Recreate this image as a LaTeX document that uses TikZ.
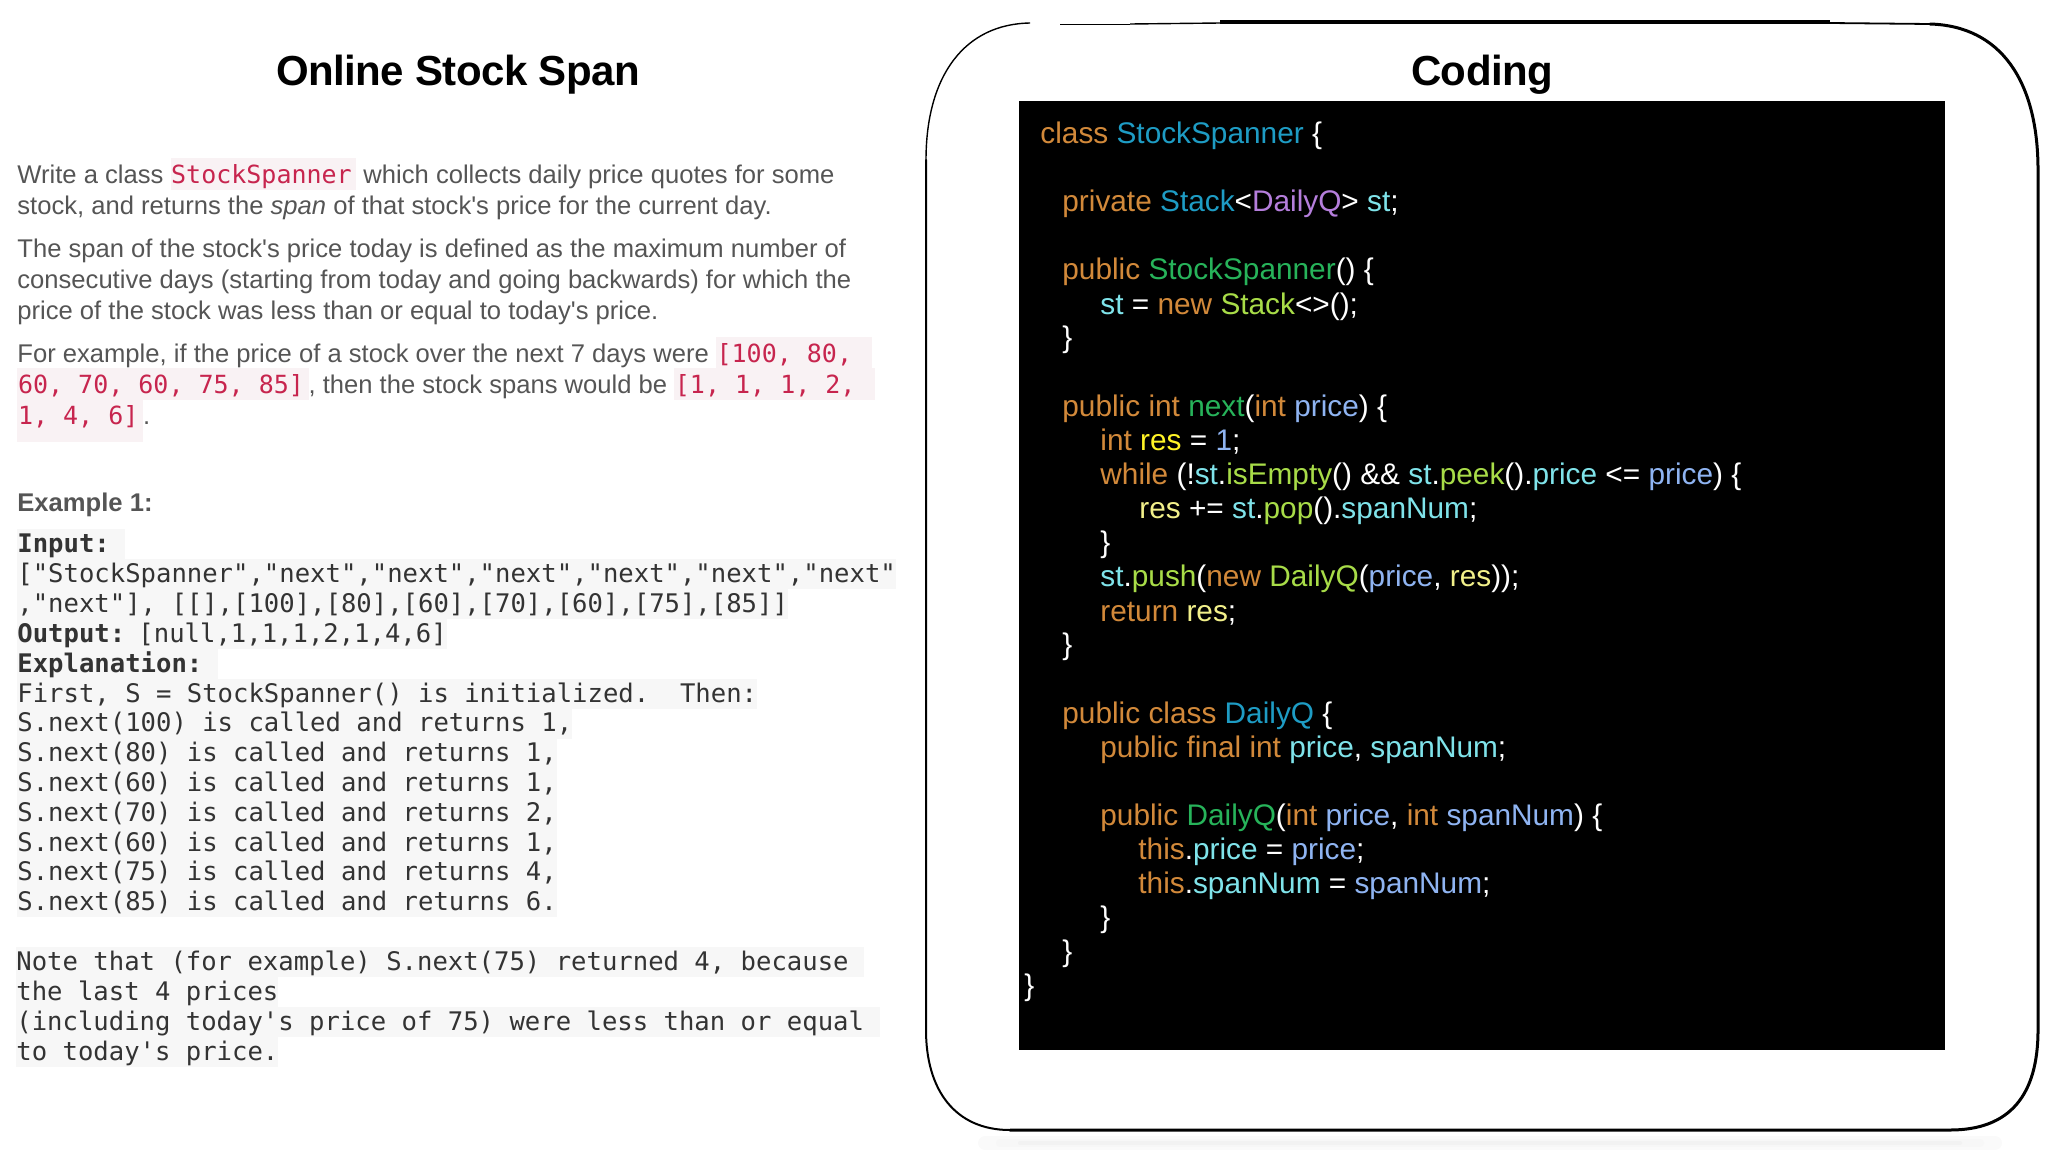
\documentclass[tikz,border=0pt]{standalone}
\usepackage{fontspec}
\usepackage{xcolor}
\newfontfamily\bodyfont{Liberation Sans}
\newfontfamily\titlefont{Liberation Sans}[LetterSpace=-1.3]
\newfontfamily\monofont{DejaVu Sans Mono}
\definecolor{bodygray}{HTML}{555555}
\definecolor{monogray}{HTML}{333333}
\definecolor{monobg}{HTML}{F7F7F7}
\definecolor{hlpink}{HTML}{F9F2F4}
\definecolor{hlred}{HTML}{C7254E}
\definecolor{kwdcol}{HTML}{D2893A}
\definecolor{clscol}{HTML}{1E9CC4}
\definecolor{fncol}{HTML}{27B35A}
\definecolor{callcol}{HTML}{A8DC48}
\definecolor{fldcol}{HTML}{7FE3EA}
\definecolor{prmcol}{HTML}{8FB4F2}
\definecolor{gencol}{HTML}{B57EDC}
\definecolor{rescol}{HTML}{F2F08A}
\newcommand{\hlcode}[2][3.5pt]{{\setlength{\fboxsep}{0pt}\colorbox{hlpink}{\vrule width 0pt height 12.5pt depth #1\hspace{.3pt}{\monofont\fontsize{12.5}{15}\selectfont\textcolor{hlred}{#2}}\hspace{2.3pt}}}}
\newcommand{\tailsp}{\kern7.7pt}
\newcommand{\kwd}[1]{\textcolor{kwdcol}{#1}}
\newcommand{\tcls}[1]{\textcolor{clscol}{#1}}
\newcommand{\tfn}[1]{\textcolor{fncol}{#1}}
\newcommand{\tcall}[1]{\textcolor{callcol}{#1}}
\newcommand{\tfld}[1]{\textcolor{fldcol}{#1}}
\newcommand{\tprm}[1]{\textcolor{prmcol}{#1}}
\newcommand{\tgen}[1]{\textcolor{gencol}{#1}}
\newcommand{\tres}[1]{\textcolor{rescol}{#1}}
\begin{document}
\begin{tikzpicture}[x=0.5pt,y=-0.5pt,
  titlenode/.style={inner sep=0pt,anchor=base,font=\titlefont\bfseries\fontsize{21}{25}\selectfont},
  bodyline/.style={inner sep=0pt,anchor=base west,text=bodygray,font=\bodyfont\fontsize{12.8}{15}\selectfont},
  monoline/.style={inner sep=0pt,anchor=base west,text=monogray,fill=monobg,text height=11.5pt,text depth=3.4pt,font=\monofont\fontsize{12.8}{15}\selectfont},
  codeline/.style={inner sep=0pt,anchor=base west,text=white,font=\bodyfont\fontsize{14.9}{17}\selectfont}]
    \useasboundingbox (0,0) rectangle (2048,1152);
    % left column
    \node[titlenode] (lefttitle) at (458,85) {Online Stock Span};
    \node[bodyline] (b1) at (17,183) {Write a class \hlcode{StockSpanner} which collects daily price quotes for some};
    \node[bodyline] (b2) at (17,214) {stock, and returns the \textit{span} of that stock's price for the current day.};
    \node[bodyline] (b3) at (17,257) {The span of the stock's price today is defined as the maximum number of};
    \node[bodyline] (b4) at (17,288) {consecutive days (starting from today and going backwards) for which the};
    \node[bodyline] (b5) at (17,319) {price of the stock was less than or equal to today's price.};
    \node[bodyline] (b6) at (17,362) {For example, if the price of a stock over the next 7 days were \hlcode{[100, 80,~}};
    \node[bodyline] (b7) at (17,393) {\hlcode{60, 70, 60, 75, 85]}, then the stock spans would be \hlcode{[1, 1, 1, 2,~}};
    \node[bodyline] (b8) at (17,424) {\hlcode[9pt]{1, 4, 6]}.};
    \node[bodyline,font=\bodyfont\bfseries\fontsize{12.8}{15}\selectfont] (ex) at (17,511) {Example 1:};
    % example block
    \node[monoline] (m1) at (17,552) {\textbf{Input:}\tailsp};
    \node[monoline] (m2) at (17,582) {["StockSpanner","next","next","next","next","next","next"};
    \node[monoline] (m3) at (17,612) {,"next"], [[],[100],[80],[60],[70],[60],[75],[85]]};
    \node[monoline] (m4) at (17,642) {\textbf{Output:}\kern6.6pt[null,1,1,1,2,1,4,6]};
    \node[monoline] (m5) at (17,672) {\textbf{Explanation:}\tailsp};
    \node[monoline] (m6) at (17,702) {First, S = StockSpanner() is initialized.~~Then:};
    \node[monoline] (m7) at (17,731.8) {S.next(100) is called and returns 1,};
    \node[monoline] (m8) at (17,761.6) {S.next(80) is called and returns 1,};
    \node[monoline] (m9) at (17,791.4) {S.next(60) is called and returns 1,};
    \node[monoline] (m10) at (17,821.2) {S.next(70) is called and returns 2,};
    \node[monoline] (m11) at (17,851) {S.next(60) is called and returns 1,};
    \node[monoline] (m12) at (17,880.8) {S.next(75) is called and returns 4,};
    \node[monoline] (m13) at (17,910.6) {S.next(85) is called and returns 6.};
    \node[monoline] (n1) at (16,970) {Note that (for example) S.next(75) returned 4, because\tailsp};
    \node[monoline] (n2) at (16,1000) {the last 4 prices};
    \node[monoline] (n3) at (16,1030) {(including today's price of 75) were less than or equal\tailsp};
    \node[monoline] (n4) at (16,1060) {to today's price.};
    % frame, drawn by hand
    \draw[black!2,line width=7pt,line cap=round] (985,1143) -- (1995,1143);
    \draw[black!3,line width=4pt,line cap=round] (1000,1143) -- (1980,1143);
    \draw[black!5,line width=2pt,line cap=round] (1020,1143) -- (1960,1143);
    \draw[line width=1pt,line cap=round] (1010,1130) .. controls (955,1130) and (926,1090) .. (926,1030) -- (926,160);
    \draw[line width=.7pt] (926,160) .. controls (926,75) and (965,24) .. (1030,23);
    \draw[line width=.5pt] (1060,24) -- (1130,24);
    \draw[line width=.7pt] (1130,24) -- (1220,23);
    \draw[line width=1.6pt] (1220,22) -- (1830,22);
    \draw[line width=.9pt] (1830,23) -- (1930,24);
    \draw[line width=1.5pt,line cap=round] (1930,24) .. controls (2000,26) and (2038,80) .. (2038,170) -- (2038,1030)
      .. controls (2038,1095) and (2010,1130) .. (1950,1130) -- (1010,1130);
    % code panel
    \node[titlenode] (righttitle) at (1482,85) {Coding};
    \fill[black] (1019,101) rectangle (1945,1050);
    \node[codeline] (c0) at (1040,143) {\kwd{class} \tcls{StockSpanner} \{};
    \node[codeline] (c2) at (1062,211) {\kwd{private} \tcls{Stack}<\tgen{DailyQ}> \tfld{st};};
    \node[codeline] (c4) at (1062,279) {\kwd{public} \tfn{StockSpanner}() \{};
    \node[codeline] (c5) at (1100,314) {\tfld{st} = \kwd{new} \tcall{Stack}<>();};
    \node[codeline] (c6) at (1062,347) {\}};
    \node[codeline] (c8) at (1062,416) {\kwd{public} \kwd{int} \tfn{next}(\kwd{int} \tprm{price}) \{};
    \node[codeline] (c9) at (1100,450) {\kwd{int} \textcolor{yellow!85!white}{res} = \tprm{1};};
    \node[codeline] (c10) at (1100,484) {\kwd{while} (!\tfld{st}.\tcall{isEmpty}() \&\& \tfld{st}.\tcall{peek}().\tfld{price} <= \tprm{price}) \{};
    \node[codeline] (c11) at (1139,518) {\tres{res} += \tfld{st}.\tcall{pop}().\tfld{spanNum};};
    \node[codeline] (c12) at (1100,552) {\}};
    \node[codeline] (c13) at (1100,586) {\tfld{st}.\tcall{push}(\kwd{new} \tcall{DailyQ}(\tprm{price}, \tres{res}));};
    \node[codeline] (c14) at (1100,621) {\kwd{return} \tres{res};};
    \node[codeline] (c15) at (1062,654) {\}};
    \node[codeline] (c17) at (1062,723) {\kwd{public} \kwd{class} \tcls{DailyQ} \{};
    \node[codeline] (c18) at (1100,757) {\kwd{public} \kwd{final} \kwd{int} \tfld{price}, \tfld{spanNum};};
    \node[codeline] (c20) at (1100,825) {\kwd{public} \tfn{DailyQ}(\kwd{int} \tprm{price}, \kwd{int} \tprm{spanNum}) \{};
    \node[codeline] (c21) at (1138,859) {\kwd{this}.\tfld{price} = \tprm{price};};
    \node[codeline] (c22) at (1138,893) {\kwd{this}.\tfld{spanNum} = \tprm{spanNum};};
    \node[codeline] (c23) at (1100,927) {\}};
    \node[codeline] (c24) at (1062,961) {\}};
    \node[codeline] (c25) at (1024,995) {\}};
\end{tikzpicture}
\end{document}
